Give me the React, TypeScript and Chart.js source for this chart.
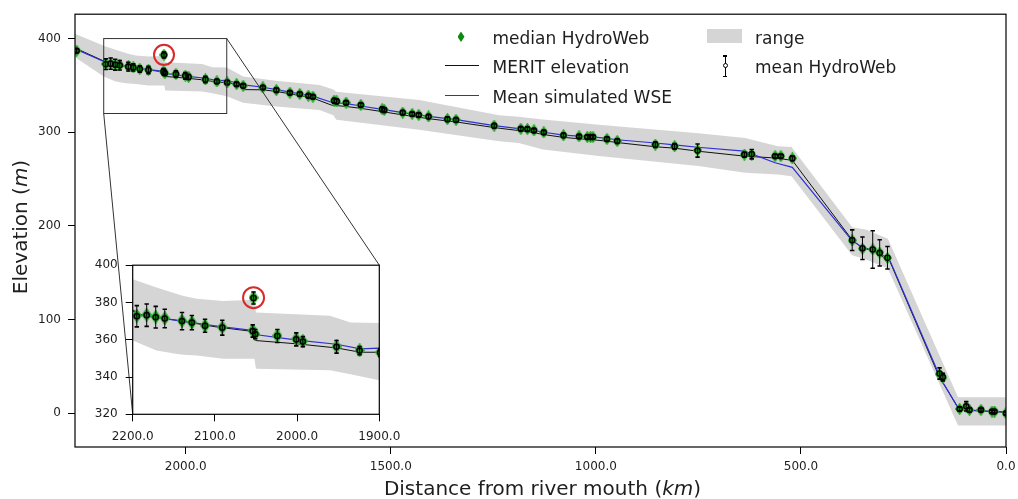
import React, { useEffect, useRef } from "react";
import { Chart, registerables } from "chart.js";

Chart.register(...registerables);

// ---------------- DATA ----------------
// Virtual stations (distance from river mouth, km)
const stationKm = [
  2266, 2195, 2183, 2172, 2161, 2140, 2128, 2112, 2091, 2054, 2053, 2051, 2024, 2001, 1993, 1952, 1924, 1899,
  1876, 1860, 1812, 1779, 1746, 1722, 1701, 1690, 1638, 1632, 1609, 1573, 1521, 1516, 1471, 1448, 1432, 1408,
  1362, 1341, 1248, 1183, 1167, 1151, 1127, 1079, 1041, 1021, 1013, 1007, 973, 948, 855, 808, 752, 638, 620,
  563, 549, 521, 375, 350, 325, 308, 289, 162, 154, 113, 97, 89, 61, 34, 28, 0,
];
// median HydroWeb elevation (m)
const medianHydroWeb = [
  387, 372.9, 373.4, 372.3, 371.6, 370.2, 369.3, 367.6, 366.7, 364.9, 382.6, 363.1, 362.2, 360.4, 359.2, 356.4, 354.3, 353.2,
  351.3, 349.6, 347.8, 345, 342.2, 340.8, 339, 338, 333.8, 333, 331.6, 329.1, 324.6, 323.8, 321, 319.6, 318.5, 316.8,
  314, 313.2, 306.9, 303.7, 303.4, 302, 299.9, 296.7, 295.6, 294.9, 294.9, 294.9, 292.8, 290.7, 286.8, 285, 280.8, 276.2, 276.2,
  274.5, 274.5, 272.2, 184.5, 175.7, 175, 171.5, 165.8, 41.7, 38.1, 4.6, 7.1, 3.6, 3.6, 1.8, 1.8, 0,
];
// mean HydroWeb elevation (m)
const meanHydroWeb = [
  387, 372.6, 373.2, 372.1, 371.4, 370.0, 369.2, 367.5, 366.5, 364.7, 382.4, 363.0, 362.0, 360.2, 359.0, 356.2, 354.2, 353.1,
  351.2, 349.5, 347.7, 344.9, 342.1, 340.7, 338.9, 337.9, 333.6, 332.9, 331.5, 329.0, 324.5, 323.7, 320.9, 319.5, 318.4, 316.7,
  313.9, 313.1, 306.8, 303.6, 303.3, 301.9, 299.8, 296.6, 295.5, 294.8, 294.8, 294.8, 292.7, 290.6, 286.7, 284.9, 280.4, 276.1, 276.6,
  274.4, 274.4, 272.1, 184.8, 176.2, 174.8, 171.2, 166.0, 42.5, 38.6, 4.6, 7.4, 3.6, 3.6, 1.8, 1.8, 0,
];
// standard deviation of HydroWeb series (m) – error bar half length
const meanHydroWebErr = [
  2, 5.7, 6, 5.8, 5, 4.6, 3.8, 3.5, 4, 3.3, 3.2, 2.5, 3.5, 3.5, 2.7, 3.4, 2.2, 2,
  2, 2, 2, 2, 2, 2, 2, 2, 2.5, 2.5, 2, 2, 2.5, 2.5, 2, 2, 2, 2,
  2.5, 2.5, 2.5, 2, 2, 2, 2, 2, 2, 2, 2, 2, 2.5, 2.5, 3, 3, 7, 2.5, 5,
  2, 2, 2.5, 11, 12, 20, 14, 12, 6, 4, 2, 5, 2, 1.5, 1.5, 1.5, 1.5,
];
// highlighted (outlier) station
const highlightKm = [2053];
const highlightElev = [382.6];

// River profile nodes (km)
const profileKm = [
  2270, 2200, 2190, 2140, 2100, 2055, 2051, 2000, 1952, 1923, 1900, 1862, 1858, 1812, 1779, 1746, 1700, 1690, 1645, 1609,
  1573, 1521, 1471, 1432, 1408, 1362, 1341, 1248, 1183, 1151, 1127, 1079, 1041, 1009, 973, 948, 855, 808, 752, 638,
  563, 521, 375, 349, 325, 290, 283, 160, 150, 117, 100, 60, 0,
];
// MERIT elevation (m)
const meritElev = [
  390, 376, 373.5, 370, 367, 364.5, 359.6, 357.8, 355.6, 353.3, 353.3, 349, 345.5, 345.3, 343.5, 341, 337.5, 336.5, 329, 327.5,
  325.5, 322, 318.5, 316, 314.5, 312, 311, 305, 301.5, 299.5, 297.5, 294.5, 293, 292, 290.5, 289, 284.5, 283, 279.8, 274.5,
  272.5, 270, 185, 176, 174, 164, 162, 36, 30, 6, 3, 2.5, 1,
];
// Mean simulated WSE (m)
const wseElev = [
  389, 375.5, 373, 370, 367.5, 365, 362.8, 359.8, 357.6, 355.1, 355.5, 351, 350.5, 348, 345.5, 342.8, 339.5, 338.5, 332, 330.5,
  328, 324.5, 321, 318.5, 317, 314.5, 313.5, 307, 303.5, 302, 300, 297, 295.8, 295, 293.5, 292, 288.5, 286.5, 284, 279.8,
  267.4, 262.5, 184, 177, 174.5, 166, 163, 38, 30, 6, 4, 2.5, 1.5,
];

// Simulated WSE range (m)
const rangeKm = [
  2270, 2200, 2171, 2146, 2138, 2122, 2090, 2052, 2050, 1960, 1935, 1900, 1860, 1780, 1674, 1640, 1633, 1431, 1236, 1188,
  1129, 993, 750, 636, 556, 523, 375, 340, 288, 117, 0,
];
const rangeUpper = [
  405, 392.4, 388, 384.5, 383.5, 382, 380.8, 381.5, 374.6, 372.9, 369.3, 369, 359.5, 355, 350.3, 345.5, 343.3, 334.4, 318, 316.5,
  313.5, 308, 299, 293.8, 285, 284.3, 198.6, 196, 186.2, 17, 17,
];
const rangeLower = [
  380, 359.6, 354.2, 352.4, 352, 351.5, 349.8, 349.8, 344.5, 343.6, 341.5, 338.3, 331.6, 327.5, 323.8, 318, 313.2, 302.6, 290.4, 288.6,
  281.5, 274.5, 263.9, 256.8, 255, 253, 168.7, 164, 154.5, -13, -13,
];

// Axes
const mainXMin = 0;
const mainXMax = 2270;
const mainYMin = -36;
const mainYMax = 426;
const mainXTicks = [0, 500, 1000, 1500, 2000];
const mainYTicks = [0, 100, 200, 300, 400];
const insetXMin = 1900;
const insetXMax = 2200;
const insetYMin = 320;
const insetYMax = 400;
const insetXTicks = [1900, 2000, 2100, 2200];
const insetYTicks = [320, 340, 360, 380, 400];

// ---------------- STYLE / LAYOUT ----------------
const FONT = '"DejaVu Sans", "Liberation Sans", sans-serif';
const GREEN = "#0e8a0e";
const GREEN_EDGE = "#2fae2f";
const BLUE = "#2f2fd6";
const BLACK = "#111111";
const GRAY = "#d5d5d5";
const RED = "#d92a2a";
const TEXT = "#1e1e1e";

const W = 1018;
const H = 499;
const INSET = { left: 80, top: 250, width: 330, height: 200 };

const zip = (xs: number[], ys: number[]) => xs.map((x, i) => ({ x, y: ys[i] }));

function makeDiamond(w: number, h: number) {
  const c = document.createElement("canvas");
  c.width = w;
  c.height = h;
  const g = c.getContext("2d")!;
  g.beginPath();
  g.moveTo(w / 2, 0.6);
  g.lineTo(w - 0.6, h / 2);
  g.lineTo(w / 2, h - 0.6);
  g.lineTo(0.6, h / 2);
  g.closePath();
  g.fillStyle = GREEN;
  g.fill();
  g.strokeStyle = GREEN_EDGE;
  g.lineWidth = 1.2;
  g.stroke();
  return c;
}

const errorBarPlugin = {
  id: "errorBars",
  beforeDatasetDraw(chart: any, args: any) {
    const ds = chart.data.datasets[args.index];
    if (!ds.errors) return;
    const { ctx, chartArea: a } = chart;
    const xs = chart.scales.x;
    const ys = chart.scales.y;
    ctx.save();
    ctx.beginPath();
    ctx.rect(a.left, a.top, a.right - a.left, a.bottom - a.top);
    ctx.clip();
    ctx.strokeStyle = "#000";
    ds.data.forEach((p: any, i: number) => {
      const e = ds.errors[i];
      const px = xs.getPixelForValue(p.x);
      const top = ys.getPixelForValue(p.y + e);
      const bot = ys.getPixelForValue(p.y - e);
      ctx.lineWidth = 1;
      ctx.beginPath();
      ctx.moveTo(px, top);
      ctx.lineTo(px, bot);
      ctx.stroke();
      ctx.lineWidth = 1.6;
      ctx.beginPath();
      ctx.moveTo(px - 2.2, top);
      ctx.lineTo(px + 2.2, top);
      ctx.moveTo(px - 2.2, bot);
      ctx.lineTo(px + 2.2, bot);
      ctx.stroke();
    });
    ctx.restore();
  },
};

const framePlugin = {
  id: "frame",
  beforeDraw(chart: any, _a: any, opts: any) {
    if (!opts || !opts.whiteBg) return;
    const { ctx, chartArea: a } = chart;
    ctx.save();
    ctx.fillStyle = "#fff";
    ctx.fillRect(a.left, a.top, a.right - a.left, a.bottom - a.top);
    ctx.restore();
  },
  afterDatasetsDraw(chart: any) {
    const { ctx, chartArea: a } = chart;
    ctx.save();
    ctx.strokeStyle = "#000";
    ctx.lineWidth = 1.2;
    ctx.strokeRect(a.left, a.top, a.right - a.left, a.bottom - a.top);
    ctx.restore();
  },
};

function buildDatasets(diamond: HTMLCanvasElement, ringRadius: number) {
  return [
    {
      label: "range",
      data: zip(rangeKm, rangeUpper),
      borderWidth: 0,
      pointRadius: 0,
      backgroundColor: GRAY,
      borderColor: GRAY,
      fill: "+1",
      order: 10,
    },
    {
      label: "range-lower",
      data: zip(rangeKm, rangeLower),
      borderWidth: 0,
      pointRadius: 0,
      borderColor: GRAY,
      fill: false,
      order: 11,
    },
    {
      label: "MERIT elevation",
      data: zip(profileKm, meritElev),
      borderColor: BLACK,
      borderWidth: 1,
      pointRadius: 0,
      fill: false,
      order: 6,
    },
    {
      label: "Mean simulated WSE",
      data: zip(profileKm, wseElev),
      borderColor: BLUE,
      borderWidth: 1.2,
      pointRadius: 0,
      fill: false,
      order: 5,
    },
    {
      label: "median HydroWeb",
      data: zip(stationKm, medianHydroWeb),
      showLine: false,
      pointStyle: diamond,
      pointRadius: 6,
      order: 4,
    },
    {
      label: "mean HydroWeb",
      data: zip(stationKm, meanHydroWeb),
      errors: meanHydroWebErr,
      showLine: false,
      pointStyle: "circle",
      pointRadius: 2.6,
      pointBorderWidth: 1.4,
      pointBorderColor: "#000",
      pointBackgroundColor: "rgba(0,0,0,0)",
      order: 3,
    },
    {
      label: "highlight",
      data: zip(highlightKm, highlightElev),
      showLine: false,
      pointStyle: "circle",
      pointRadius: ringRadius,
      pointBorderWidth: 2,
      pointBorderColor: RED,
      pointBackgroundColor: "rgba(0,0,0,0)",
      order: 1,
    },
  ];
}

function buildScales(
  xmin: number, xmax: number, xticks: number[],
  ymin: number, ymax: number, yticks: number[],
  yWidth: number, xHeight: number, xPad: number, yPad: number
) {
  const tickFont = { family: FONT, size: 12 };
  return {
    x: {
      type: "linear",
      reverse: true,
      min: xmin,
      max: xmax,
      afterBuildTicks: (s: any) => {
        s.ticks = xticks.map((v) => ({ value: v }));
      },
      afterFit: (s: any) => {
        s.height = xHeight;
      },
      ticks: {
        callback: (v: any) => Number(v).toFixed(1),
        padding: xPad,
        maxRotation: 0,
        autoSkip: false,
        color: TEXT,
        font: tickFont,
      },
      grid: { drawOnChartArea: false, drawTicks: true, tickLength: 7, tickColor: "#000", tickWidth: 1, color: "#000" },
      border: { display: false },
    },
    y: {
      type: "linear",
      min: ymin,
      max: ymax,
      afterBuildTicks: (s: any) => {
        s.ticks = yticks.map((v) => ({ value: v }));
      },
      afterFit: (s: any) => {
        s.width = yWidth;
      },
      ticks: {
        callback: (v: any) => String(v),
        padding: yPad,
        autoSkip: false,
        color: TEXT,
        font: tickFont,
      },
      grid: { drawOnChartArea: false, drawTicks: true, tickLength: 7, tickColor: "#000", tickWidth: 1, color: "#000" },
      border: { display: false },
    },
  };
}

export default function App() {
  const mainRef = useRef<HTMLCanvasElement | null>(null);
  const insetRef = useRef<HTMLCanvasElement | null>(null);

  useEffect(() => {
    if (!mainRef.current || !insetRef.current) return;
    const diamondMain = makeDiamond(9, 12);
    const diamondInset = makeDiamond(10, 14);

    const inset = new Chart(insetRef.current, {
      type: "line",
      data: { datasets: buildDatasets(diamondInset, 10.5) as any },
      options: {
        responsive: false,
        animation: false,
        events: [],
        layout: { padding: { left: 0, top: 14, right: 30.7, bottom: 0 } },
        scales: buildScales(insetXMin, insetXMax, insetXTicks, insetYMin, insetYMax, insetYTicks, 52.7, 35.7, 8, 8) as any,
        plugins: { legend: { display: false }, tooltip: { enabled: false }, frame: { whiteBg: true } } as any,
      },
      plugins: [framePlugin, errorBarPlugin],
    });

    const zoomPlugin = {
      id: "zoomMark",
      afterDatasetsDraw(chart: any) {
        const { ctx } = chart;
        const xs = chart.scales.x;
        const ys = chart.scales.y;
        const l = xs.getPixelForValue(insetXMax);
        const r = xs.getPixelForValue(insetXMin);
        const t = ys.getPixelForValue(insetYMax);
        const b = ys.getPixelForValue(insetYMin);
        ctx.save();
        ctx.strokeStyle = "#333";
        ctx.lineWidth = 1;
        ctx.strokeRect(l, t, r - l, b - t);
        const a = inset.chartArea;
        if (a) {
          ctx.beginPath();
          ctx.moveTo(r, t);
          ctx.lineTo(INSET.left + a.right, INSET.top + a.top);
          ctx.moveTo(l, b);
          ctx.lineTo(INSET.left + a.left, INSET.top + a.bottom);
          ctx.stroke();
        }
        ctx.restore();
      },
    };

    const main = new Chart(mainRef.current, {
      type: "line",
      data: { datasets: buildDatasets(diamondMain, 10) as any },
      options: {
        responsive: false,
        animation: false,
        events: [],
        layout: { padding: { left: 0, top: 10, right: 10, bottom: 0 } },
        scales: buildScales(mainXMin, mainXMax, mainXTicks, mainYMin, mainYMax, mainYTicks, 75, 52, 6, 7) as any,
        plugins: { legend: { display: false }, tooltip: { enabled: false } } as any,
      },
      plugins: [framePlugin, errorBarPlugin, zoomPlugin],
    });

    return () => {
      main.destroy();
      inset.destroy();
    };
  }, []);

  const legendText: React.CSSProperties = {
    position: "absolute",
    fontSize: 17,
    lineHeight: "20px",
    color: TEXT,
    whiteSpace: "nowrap",
  };

  return (
    <div style={{ position: "absolute", left: 0, top: 0, width: W, height: H, fontFamily: FONT, background: "#fff" }}>
      <canvas ref={mainRef} width={W} height={H} style={{ position: "absolute", left: 0, top: 0, width: W, height: H }} />
      <canvas
        ref={insetRef}
        width={INSET.width}
        height={INSET.height}
        style={{ position: "absolute", left: INSET.left, top: INSET.top, width: INSET.width, height: INSET.height }}
      />

      {/* legend */}
      <div
        style={{
          position: "absolute", left: 457.5, top: 31.5, width: 7, height: 10.5, background: GREEN,
          clipPath: "polygon(50% 0, 100% 50%, 50% 100%, 0 50%)",
        }}
      />
      <div style={{ ...legendText, left: 492.5, top: 28 }}>median HydroWeb</div>
      <div style={{ position: "absolute", left: 445, top: 65.2, width: 34, height: 1, background: BLACK }} />
      <div style={{ ...legendText, left: 492.5, top: 57.4 }}>MERIT elevation</div>
      <div style={{ position: "absolute", left: 445, top: 95, width: 34, height: 1.4, background: BLUE }} />
      <div style={{ ...legendText, left: 492.5, top: 86.8 }}>Mean simulated WSE</div>

      <div style={{ position: "absolute", left: 707.3, top: 29.3, width: 35, height: 14, background: GRAY }} />
      <div style={{ ...legendText, left: 755, top: 28 }}>range</div>
      <div style={{ position: "absolute", left: 724.5, top: 56, width: 1, height: 20.7, background: "#000" }} />
      <div style={{ position: "absolute", left: 722.8, top: 55.3, width: 4.4, height: 1.6, background: "#000" }} />
      <div style={{ position: "absolute", left: 722.8, top: 75.5, width: 4.4, height: 1.6, background: "#000" }} />
      <div
        style={{
          position: "absolute", left: 722.5, top: 63.2, width: 5, height: 5, borderRadius: "50%",
          border: "1.2px solid #000", background: "#fff", boxSizing: "border-box",
        }}
      />
      <div style={{ ...legendText, left: 755, top: 57.4 }}>mean HydroWeb</div>

      {/* axis titles */}
      <div
        style={{
          position: "absolute", left: 542.5 - 250, top: 476, width: 500, textAlign: "center",
          fontSize: 20, lineHeight: "24px", color: TEXT, whiteSpace: "nowrap",
        }}
      >
        Distance from river mouth (<i>km</i>)
      </div>
      <div
        style={{
          position: "absolute", left: 19.8 - 150, top: 227 - 12, width: 300, height: 24, textAlign: "center",
          fontSize: 20, lineHeight: "24px", color: TEXT, whiteSpace: "nowrap",
          transform: "rotate(-90deg)", transformOrigin: "50% 50%",
        }}
      >
        Elevation (<i>m</i>)
      </div>
    </div>
  );
}
